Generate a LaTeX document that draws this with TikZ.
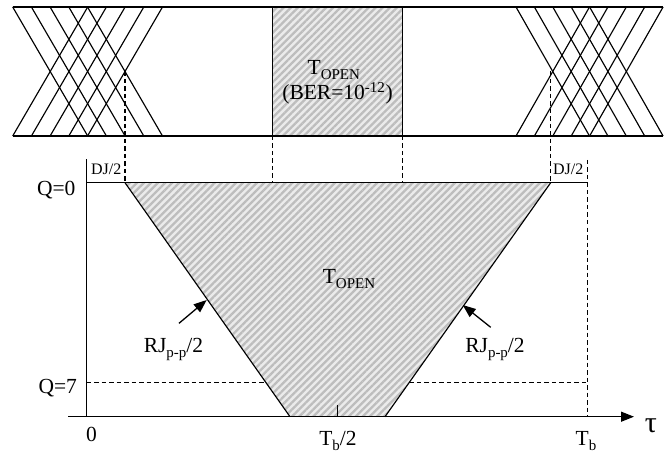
\documentclass[tikz,border=0pt]{standalone}
\usepackage{fontspec}
\setmainfont{Liberation Serif}
\usetikzlibrary{arrows.meta,patterns.meta}
\newcommand{\lowsub}[1]{\raisebox{-0.24em}{\fontsize{15}{16}\selectfont #1}}
\begin{document}
\begin{tikzpicture}[x=1pt,y=-1pt,
  thinline/.style={line width=1.15pt},
  dashline/.style={line width=1.15pt,dash pattern=on 4.5pt off 3pt},
  hatch/.style={preaction={fill=gray!16},pattern={Lines[angle=45,distance=5pt,line width=2.3pt]},pattern color=gray!52},
  lbl/.style={inner sep=0pt,anchor=base,font=\fontsize{21.5}{24}\selectfont},
  sml/.style={inner sep=0pt,anchor=base,font=\fontsize{16}{18}\selectfont},
  ptr/.style={line width=1.3pt,-{Triangle[length=13pt,width=10pt]}}
]
\useasboundingbox (0,0) rectangle (671,454);

% ---------- eye diagram (top) ----------
\coordinate (boxTL) at (272.3,7);
\coordinate (boxBR) at (402.7,136);
\fill[hatch] (boxTL) rectangle (boxBR);
\draw[thinline] (272.3,7) -- (272.3,136);
\draw[thinline] (402.7,7) -- (402.7,136);
\foreach \i in {0,...,4} {
  \pgfmathsetmacro\a{12.7+18.7*\i}
  \pgfmathsetmacro\b{516+18.4*\i}
  \draw[thinline] (\a,7) -- (\a+75,136);
  \draw[thinline] (\a,136) -- (\a+75,7);
  \draw[thinline] (\b,7) -- (\b+73.5,136);
  \draw[thinline] (\b,136) -- (\b+73.5,7);
}
\coordinate (topL) at (12.7,7);
\coordinate (topR) at (663.1,7);
\coordinate (botL) at (12.7,136);
\coordinate (botR) at (663.1,136);
\draw[thinline] (topL) -- (topR);
\draw[thinline] (botL) -- (botR);

\node[lbl] (topen1) at (333.8,74.5) {T\lowsub{OPEN}};
\node[lbl] (ber) at (337.5,99.8) {(BER=10\textsuperscript{-12})};

% ---------- bathtub plot ----------
\coordinate (tl) at (125,182.7);
\coordinate (tr) at (550.7,182.7);
\coordinate (br) at (385,416.7);
\coordinate (bl) at (290,416.7);
\coordinate (xl) at (125,71.5);
\coordinate (xr) at (550.7,71.5);
\coordinate (q0l) at (86.7,182.7);
\coordinate (q0r) at (587.7,182.7);
\coordinate (yaxT) at (86.7,159.3);
\coordinate (orig) at (86.7,416.7);
\coordinate (xaxL) at (68.3,416.7);
\coordinate (xaxR) at (634,416.7);
\coordinate (tbT) at (587.7,160);
\coordinate (tbB) at (587.7,416.7);

\fill[hatch] (tl) -- (tr) -- (br) -- (bl) -- cycle;
\draw[thinline] (tl) -- (bl);
\draw[thinline] (tr) -- (br);

\draw[dashline] (xl) -- (tl);
\draw[dashline] (xr) -- (tr);
\draw[dashline] (272.3,136) -- (272.3,182.7);
\draw[dashline] (402.7,136) -- (402.7,182.7);
\draw[dashline] (tbT) -- (tbB);

\draw[thinline] (q0l) -- (q0r);
\draw[line width=1.3pt] (yaxT) -- (orig);
\draw[line width=1.3pt,-{Triangle[length=13pt,width=10pt]}] (xaxL) -- (xaxR);
\draw[thinline] (337.5,405) -- (337.5,416.7);

\draw[dashline] (86.7,382.3) -- (265.7,382.3);
\draw[dashline] (409.4,382.3) -- (587.7,382.3);

\coordinate (a1s) at (179,323.3);
\coordinate (a1e) at (206.7,300);
\coordinate (a2s) at (490.7,327.3);
\coordinate (a2e) at (462.7,305);
\draw[ptr] (a1s) -- (a1e);
\draw[ptr] (a2s) -- (a2e);

% ---------- labels ----------
\node[lbl] (q0) at (56.3,196) {Q=0};
\node[lbl] (q7) at (57.8,393.3) {Q=7};
\node[lbl] (zero) at (91.5,441.7) {0};
\node[sml] (djl) at (106.2,175) {DJ/2};
\node[sml] (djr) at (568.3,174.3) {DJ/2};
\node[lbl] (topen2) at (349,283.3) {T\lowsub{OPEN}};
\node[lbl] (rjl) at (173.5,352.5) {RJ\lowsub{p-p}/2};
\node[lbl] (rjr) at (495,352.5) {RJ\lowsub{p-p}/2};
\node[lbl] (tb2) at (338,445.5) {T\lowsub{b}/2};
\node[lbl] (tb) at (586,445.5) {T\lowsub{b}};
\node[inner sep=0pt,anchor=base,font=\fontsize{30}{32}\selectfont] (tau) at (651,432) {τ};
\end{tikzpicture}
\end{document}
